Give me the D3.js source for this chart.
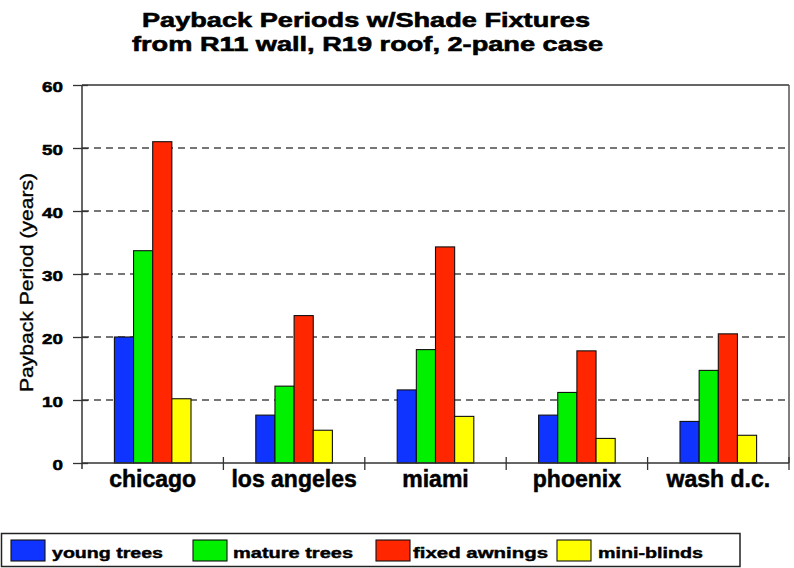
<!DOCTYPE html>
<html>
<head>
<meta charset="utf-8">
<script src="https://cdn.jsdelivr.net/npm/d3@7"></script>
<style>
  html, body { margin: 0; padding: 0; background: #fff; }
  svg { display: block; }
  text { font-family: "Liberation Sans", Arial, sans-serif; }
</style>
</head>
<body>
<svg id="chart" width="794" height="568"></svg>
<script>
const categories = ["chicago", "los angeles", "miami", "phoenix", "wash d.c."];
const seriesNames = ["young trees", "mature trees", "fixed awnings", "mini-blinds"];
const youngTrees   = [20.0, 7.6, 11.6, 7.6, 6.6];
const matureTrees  = [33.7, 12.2, 18.0, 11.2, 14.7];
const fixedAwnings = [51.0, 23.4, 34.3, 17.8, 20.5];
const miniBlinds   = [10.2, 5.2, 7.4, 3.9, 4.4];
const yTicks = [0, 10, 20, 30, 40, 50, 60];
const titleLines = ["Payback Periods w/Shade Fixtures", "from R11 wall, R19 roof, 2-pane case"];
const yLabel = "Payback Period (years)";

const seriesValues = [youngTrees, matureTrees, fixedAwnings, miniBlinds];
const colors = ["#1034ff", "#00f000", "#ff2600", "#ffff00"];

const svg = d3.select("#chart");
const L = 82, R = 789, T = 85, B = 463;

const x0 = d3.scaleBand().domain(categories).range([L, R]).padding(0);
const bw = x0.bandwidth();
const x1 = d3.scaleBand().domain(seriesNames).range([32.4, bw - 32.4]).padding(0);
const y = d3.scaleLinear().domain([0, 60]).range([B, T]);

// gridlines
svg.append("g").selectAll("line")
  .data(yTicks.filter(t => t > 0 && t < 60))
  .join("line")
  .attr("x1", L).attr("x2", R)
  .attr("y1", d => y(d)).attr("y2", d => y(d))
  .attr("stroke", "#4a4a4a").attr("stroke-width", 1.7)
  .attr("stroke-dasharray", "7,5");

// frame top & right
svg.append("line").attr("x1", L).attr("x2", R).attr("y1", T).attr("y2", T)
  .attr("stroke", "#333").attr("stroke-width", 1.5);
svg.append("line").attr("x1", R).attr("x2", R).attr("y1", T).attr("y2", B)
  .attr("stroke", "#555").attr("stroke-width", 1.5);

// bars
const groups = svg.append("g").selectAll("g")
  .data(categories)
  .join("g")
  .attr("transform", d => `translate(${x0(d)},0)`);

groups.selectAll("rect")
  .data((c, i) => seriesNames.map((s, j) => ({ s, v: seriesValues[j][i], j })))
  .join("rect")
  .attr("x", d => x1(d.s))
  .attr("width", x1.bandwidth())
  .attr("y", d => y(d.v))
  .attr("height", d => y(0) - y(d.v))
  .attr("fill", d => colors[d.j])
  .attr("stroke", "#111")
  .attr("stroke-width", 1.1);

// y axis
const yAxis = svg.append("g")
  .attr("transform", `translate(${L},0)`)
  .call(d3.axisLeft(y).tickValues(yTicks).tickSizeInner(9).tickSizeOuter(0).tickPadding(19));
yAxis.select(".domain").attr("stroke", "#333").attr("stroke-width", 1.5)
  .attr("d", `M0,${T}V${B + 6}`);
yAxis.selectAll(".tick line").attr("stroke", "#333").attr("stroke-width", 1.3)
  .attr("x1", 6).attr("x2", -9);
yAxis.selectAll(".tick text")
  .attr("x", null).attr("dy", null)
  .attr("transform", "translate(-19,6) scale(1.3,1)")
  .attr("text-anchor", "end")
  .attr("fill", "#000")
  .attr("stroke", "#000").attr("stroke-width", 0.5)
  .style("font-size", "14.5px").style("font-weight", "bold")
  .style("font-family", "'Liberation Sans', Arial, sans-serif");

// x axis
const xAxis = svg.append("g")
  .attr("transform", `translate(0,${B})`)
  .call(d3.axisBottom(x0).tickSize(0).tickPadding(0));
xAxis.select(".domain").attr("stroke", "#333").attr("stroke-width", 1.5)
  .attr("d", `M${L},0H${R}`);
xAxis.selectAll(".tick text")
  .attr("y", 24).attr("dy", null)
  .attr("fill", "#000")
  .attr("stroke", "#000").attr("stroke-width", 0.5)
  .style("font-size", "23px").style("font-weight", "bold")
  .style("font-family", "'Liberation Sans', Arial, sans-serif");
// category boundary ticks
xAxis.append("g").selectAll("line")
  .data(categories.slice(1).map(c => x0(c)).concat([R]))
  .join("line")
  .attr("x1", d => d).attr("x2", d => d)
  .attr("y1", -6).attr("y2", 7)
  .attr("stroke", "#333").attr("stroke-width", 1.3);

// title
const titleLayout = [{ x: 366, y: 26.5, w: 448 }, { x: 367.5, y: 50.5, w: 471 }];
svg.append("g").selectAll("text")
  .data(titleLines)
  .join("text")
  .attr("x", (d, i) => titleLayout[i].x)
  .attr("y", (d, i) => titleLayout[i].y)
  .attr("text-anchor", "middle")
  .attr("textLength", (d, i) => titleLayout[i].w)
  .attr("lengthAdjust", "spacingAndGlyphs")
  .attr("stroke", "#000").attr("stroke-width", 0.6)
  .style("font-size", "21px").style("font-weight", "bold")
  .text(d => d);

// y label
svg.append("text")
  .attr("transform", "translate(33,282.5) rotate(-90)")
  .attr("text-anchor", "middle")
  .attr("textLength", 219)
  .attr("lengthAdjust", "spacingAndGlyphs")
  .attr("stroke", "#000").attr("stroke-width", 0.35)
  .style("font-size", "19px")
  .text(yLabel);

// legend
svg.append("rect").attr("x", 1.5).attr("y", 533.5).attr("width", 738.5).attr("height", 33)
  .attr("fill", "#fff").attr("stroke", "#222").attr("stroke-width", 1.5);
const legendLayout = [
  { sx: 11, tx: 52, tw: 111 },
  { sx: 193, tx: 233, tw: 120 },
  { sx: 376, tx: 413, tw: 135 },
  { sx: 557, tx: 598, tw: 105 }
];
const lg = svg.append("g").selectAll("g").data(seriesNames).join("g");
lg.append("rect")
  .attr("x", (d, i) => legendLayout[i].sx).attr("y", 540)
  .attr("width", 34).attr("height", 21)
  .attr("fill", (d, i) => colors[i])
  .attr("stroke", "#111").attr("stroke-width", 1.1);
lg.append("text")
  .attr("x", (d, i) => legendLayout[i].tx).attr("y", 558)
  .attr("textLength", (d, i) => legendLayout[i].tw)
  .attr("lengthAdjust", "spacingAndGlyphs")
  .attr("stroke", "#000").attr("stroke-width", 0.45)
  .style("font-size", "15.5px").style("font-weight", "bold")
  .text(d => d);
</script>
</body>
</html>
